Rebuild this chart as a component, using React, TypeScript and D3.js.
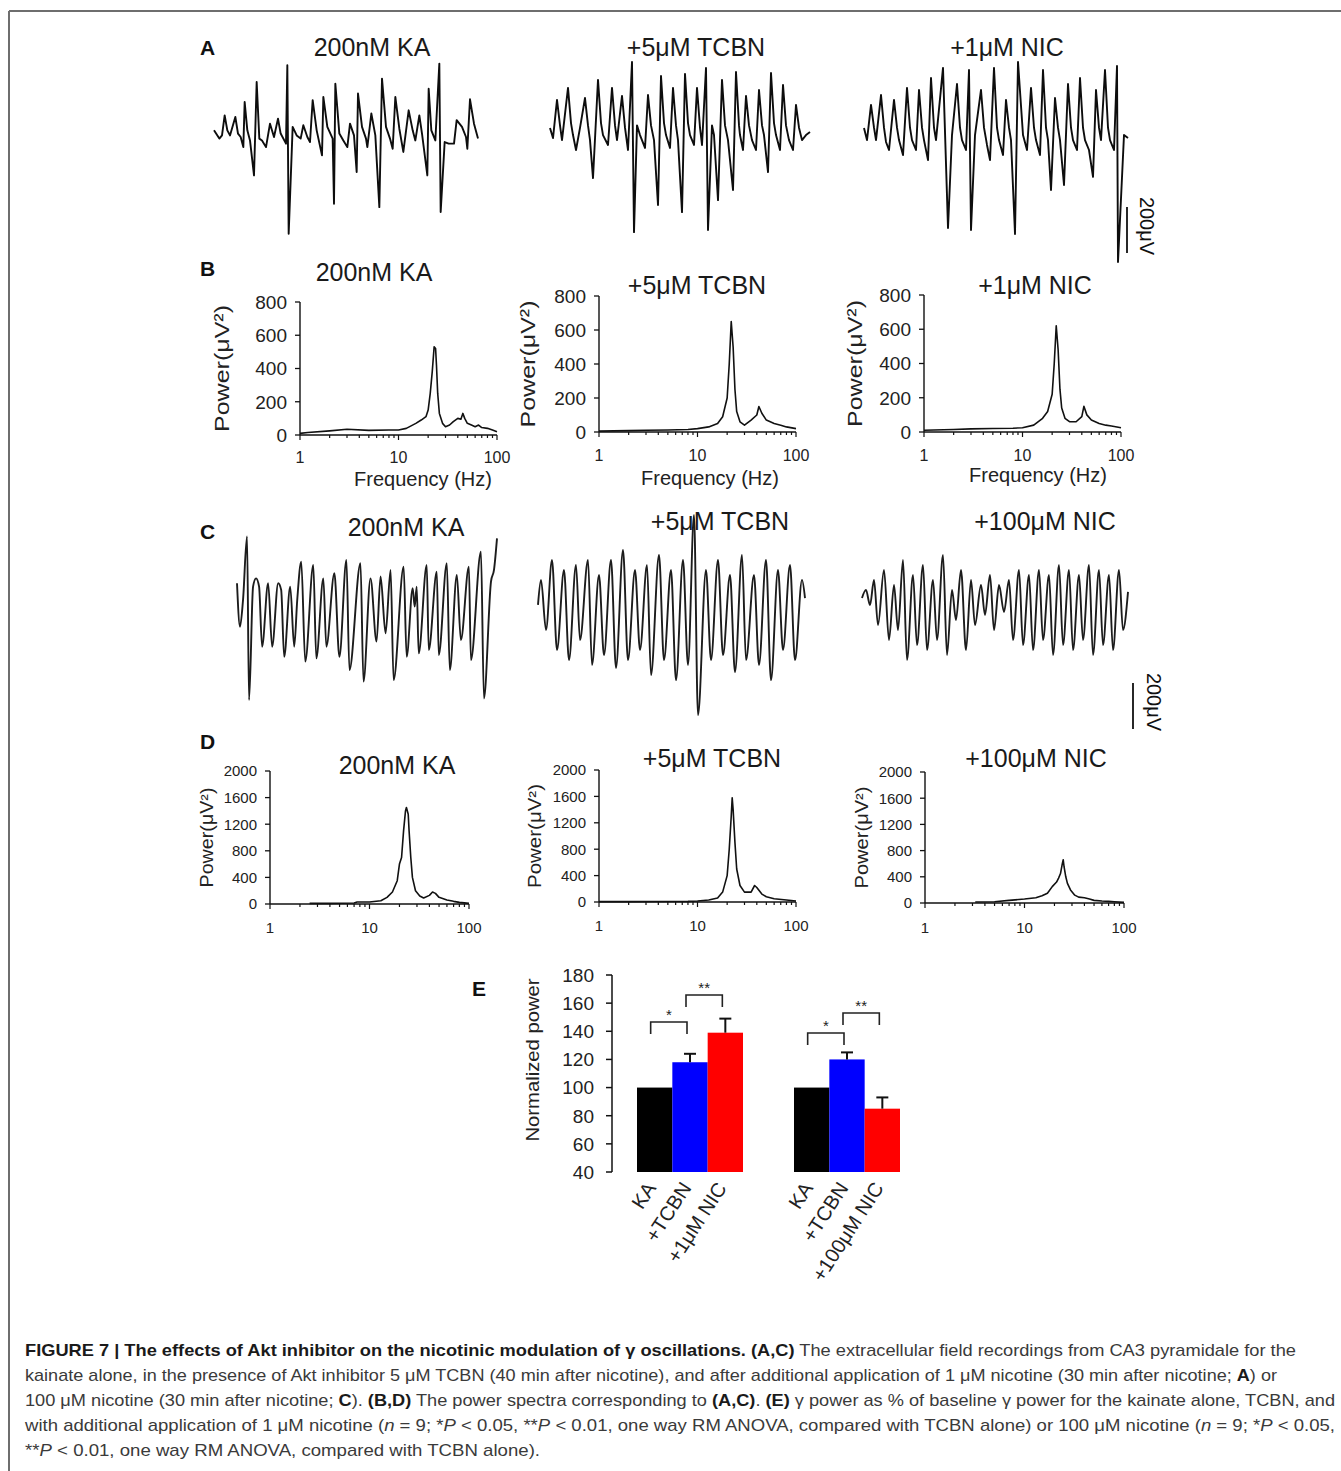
import React from 'react';
import * as d3 from 'd3';

type Pt = [number, number];

const FONT = 'Liberation Sans, Arial, Helvetica, sans-serif';

// ---- A: field recordings, [time (ms), potential (µV)] ----
const traceA_KA: Pt[] = [
  [0, 29], [4, -7], [6, 7], [8, 94], [10, 29], [12, 7], [16, 87], [18, 15], [20, 0], [22, -44], [23, 152], [25, 29],
  [27, -15], [30, -167], [32, 239], [34, -7], [36, -15], [39, -44], [42, 58], [45, 0], [48, 80], [50, 15], [54, -29],
  [55, 312], [56, -421], [59, 44], [62, 7], [65, -7], [67, 51], [70, 0], [72, -22], [74, 160], [77, 29], [81, -80],
  [82, 174], [85, 44], [89, -7], [90, -290], [91, 232], [94, 15], [97, -15], [100, -44], [102, 58], [105, 7],
  [107, -152], [108, 189], [111, 44], [114, -7], [115, -44], [118, 102], [121, 7], [124, -305], [126, 254], [129, 44],
  [132, -7], [134, -51], [136, 174], [139, 36], [142, -65], [146, 116], [149, 29], [151, -15], [154, 94], [156, 15],
  [160, -167], [161, 210], [163, 29], [166, -15], [169, 319], [170, -326], [173, -22], [176, -29], [180, -29], [182, 73],
  [186, 44], [189, 0], [190, -51], [192, 164], [195, 58], [198, -7],
];
const traceA_TCBN: Pt[] = [
  [0, 9], [3, -35], [7, 131], [10, 20], [12, -44], [18, 183], [21, 30], [23, -22], [26, -87], [30, 9], [35, 139],
  [38, 20], [40, -44], [43, -209], [48, 218], [51, 30], [53, -22], [58, -65], [62, 183], [65, 20], [67, -44], [72, 148],
  [75, 10], [78, -87], [82, 296], [84, -444], [87, 20], [90, -22], [95, -78], [98, 152], [101, 20], [104, -44],
  [108, -326], [111, 235], [114, 30], [116, -22], [120, -78], [123, 183], [126, 20], [128, -44], [132, -357], [135, 244],
  [138, 30], [140, -22], [144, -65], [147, 183], [150, 10], [152, -65], [156, 270], [158, -435], [162, 20], [164, -22],
  [168, -305], [172, 218], [175, 20], [178, -44], [183, -261], [186, 252], [189, 20], [190, -22], [193, -87], [196, 148],
  [199, 20], [202, -44], [206, -87], [209, 174], [212, 20], [214, -22], [218, -183], [221, 248], [224, 30], [226, -22],
  [230, -87], [233, 196], [236, 20], [239, -44], [243, -87], [246, 109], [249, 10], [252, -44], [256, -22], [260, -9],
];
const traceA_NIC: Pt[] = [
  [0, 9], [3, -44], [7, 109], [10, 10], [12, -44], [17, 152], [20, 10], [22, -52], [25, -87], [30, 131], [33, 10],
  [35, -44], [39, -109], [43, 183], [46, 10], [48, -44], [52, -87], [55, 174], [58, 10], [60, -44], [64, -131],
  [67, 226], [70, 10], [72, -44], [79, 270], [84, -426], [88, -22], [93, 200], [96, 10], [98, -44], [102, -87],
  [105, 261], [107, -435], [111, -22], [117, 174], [120, 10], [123, -65], [126, -131], [130, 270], [133, 10], [135, -44],
  [139, -109], [142, 131], [145, 10], [147, -44], [151, -452], [154, 296], [159, -22], [163, -87], [167, 183], [170, 10],
  [172, -44], [176, -109], [179, 261], [182, 10], [184, -44], [187, -261], [191, 139], [194, 10], [196, -44],
  [200, -239], [204, 200], [207, 10], [209, -44], [213, -87], [216, 226], [219, 10], [221, -44], [225, -87], [229, -204],
  [232, 174], [235, 10], [237, -44], [241, 261], [244, 10], [246, -44], [250, -87], [253, 278], [254, -574], [260, -22],
  [264, -35],
];

// ---- C: field recordings, [time (ms), potential (µV)] ----
const traceC_KA: Pt[] = [
  [0, 73], [3, -116], [6, 0], [10, 276], [12, -435], [16, 58], [19, 94], [22, 58], [25, -203], [31, 73], [35, -203],
  [41, 73], [44, 44], [47, -247], [53, 58], [57, -203], [60, 0], [64, 167], [68, -268], [76, 152], [79, -254], [86, 94],
  [89, -203], [97, 116], [102, -247], [109, 174], [112, -305], [123, 160], [126, -355], [133, 94], [139, -181],
  [143, 102], [148, -145], [153, 131], [156, -348], [166, 145], [169, -247], [175, 51], [177, -29], [179, 58],
  [181, -232], [189, 152], [191, -218], [199, 123], [201, -239], [209, 160], [212, -305], [219, 109], [223, -174],
  [231, 145], [233, -261], [243, 210], [246, -428], [253, 80], [256, 131], [259, 268],
];
const traceC_TCBN: Pt[] = [
  [0, 22], [3, 131], [8, -87], [14, 218], [19, -174], [26, 174], [31, -218], [38, 196], [42, -131], [50, 218],
  [54, -239], [61, 152], [66, -196], [73, 218], [78, -252], [85, 261], [90, -218], [97, 174], [102, -174], [109, 196],
  [113, -283], [121, 239], [126, -218], [133, 174], [138, -305], [145, 218], [150, -239], [156, 413], [160, -457],
  [168, 174], [173, -218], [180, 218], [185, -196], [192, 152], [197, -270], [204, 239], [208, -218], [216, 152],
  [221, -239], [228, 218], [233, -305], [240, 174], [245, -174], [252, 196], [257, -218], [264, 131], [267, 52],
];
const traceC_NIC: Pt[] = [
  [0, 9], [4, 44], [8, -22], [12, 87], [16, -109], [22, 131], [27, -174], [32, 65], [36, -131], [41, 174], [45, -261],
  [51, 109], [55, -196], [61, 152], [65, -218], [71, 87], [75, -174], [81, 196], [85, -239], [90, 44], [94, -87],
  [99, 131], [104, -218], [109, 87], [113, -109], [119, 65], [123, -65], [128, 109], [132, -131], [137, 65], [142, -52],
  [147, 87], [151, -174], [157, 131], [161, -196], [167, 109], [171, -218], [177, 131], [181, -174], [187, 109],
  [191, -239], [197, 152], [201, -196], [207, 131], [211, -218], [217, 109], [221, -174], [227, 152], [231, -239],
  [237, 131], [241, -196], [247, 109], [251, -218], [257, 131], [261, -131], [266, 35],
];

// ---- B / D: power spectra, [frequency (Hz), power (µV²)] ----
const specB_KA: Pt[] = [
  [1, 10], [1.2, 15], [2, 25], [3, 35], [5, 28], [8, 30], [10, 30], [12, 40], [15, 70], [17, 90], [19, 110], [20, 150],
  [21, 250], [22, 380], [23, 530], [23.8, 520], [24.3, 420], [25, 250], [26, 130], [28, 70], [30, 50], [33, 60],
  [36, 80], [40, 100], [43, 95], [45, 130], [47, 100], [50, 70], [55, 60], [60, 50], [65, 60], [70, 45], [80, 40],
  [90, 30], [100, 20],
];
const specB_TCBN: Pt[] = [
  [1, 5], [2, 8], [3, 10], [5, 12], [8, 15], [10, 20], [13, 30], [16, 50], [18, 90], [20, 200], [21, 400], [22, 650],
  [23, 500], [24, 250], [25, 120], [27, 60], [30, 40], [35, 70], [40, 100], [42, 150], [45, 110], [50, 70], [60, 50],
  [70, 40], [80, 30], [100, 20],
];
const specB_NIC: Pt[] = [
  [1, 10], [2, 15], [3, 18], [5, 20], [8, 22], [10, 25], [13, 40], [16, 80], [18, 120], [20, 220], [21, 400],
  [22, 620], [23, 480], [24, 250], [25, 140], [27, 80], [30, 60], [35, 60], [40, 90], [42, 150], [45, 100], [50, 70],
  [60, 50], [70, 40], [80, 35], [100, 25],
];
const specD_KA: Pt[] = [
  [2.5, 10], [4, 10], [7, 15], [7.5, 30], [10, 30], [13, 50], [15, 100], [17, 180], [19, 350], [20, 600], [21, 700],
  [22, 1100], [23, 1400], [23.5, 1450], [24.5, 1350], [25, 1100], [26, 700], [27, 400], [29, 200], [32, 120], [35, 90],
  [40, 130], [43, 180], [46, 160], [50, 100], [60, 60], [70, 40], [80, 25], [100, 10],
];
const specD_TCBN: Pt[] = [
  [1, 5], [2, 5], [5, 8], [8, 10], [10, 15], [13, 30], [16, 60], [18, 150], [20, 400], [21, 800], [22, 1300],
  [22.5, 1580], [23, 1400], [24, 900], [25, 500], [27, 250], [30, 150], [35, 150], [38, 250], [40, 220], [45, 120],
  [50, 80], [60, 50], [80, 30], [100, 15],
];
const specD_NIC: Pt[] = [
  [3.2, 15], [5, 20], [7, 40], [10, 60], [13, 80], [15, 110], [17, 150], [19, 250], [21, 320], [22, 380], [23, 450],
  [24, 600], [24.5, 660], [25, 550], [26, 400], [27, 300], [29, 200], [32, 120], [35, 90], [40, 80], [45, 60], [50, 40],
  [60, 30], [70, 25], [80, 20], [100, 10],
];

const titlesAB = ['200nM KA', '+5μM TCBN', '+1μM NIC'];
const titlesCD = ['200nM KA', '+5μM TCBN', '+100μM NIC'];

// ---- E: normalized gamma power (% of KA) ----
const barLabels1 = ['KA', '+TCBN', '+1μM NIC'];
const barLabels2 = ['KA', '+TCBN', '+100μM NIC'];
const barMeans1 = [100, 118, 139];
const barErr1 = [0, 6, 10];
const barMeans2 = [100, 120, 85];
const barErr2 = [0, 5, 8];
const barColors = ['#000000', '#0000ff', '#ff0000'];
const sigBrackets = [
  { group: 0, from: 0, to: 1, level: 146.6, label: '*' },
  { group: 0, from: 1, to: 2, level: 165.8, label: '**' },
  { group: 1, from: 0, to: 1, level: 138.8, label: '*' },
  { group: 1, from: 1, to: 2, level: 153, label: '**' },
];

const UV200 = 46; // px for the 200 µV scale bar

function Trace({ data, x0, x1, base, color, smooth }: { data: Pt[]; x0: number; x1: number; base: number; color: string; smooth?: boolean }) {
  const x = d3.scaleLinear().domain(d3.extent(data, d => d[0]) as [number, number]).range([x0, x1]);
  const y = d3.scaleLinear().domain([0, 200]).range([base, base - UV200]);
  const line = d3.line<Pt>().x(d => x(d[0])).y(d => y(d[1])).curve(smooth ? d3.curveMonotoneX : d3.curveLinear);
  return <path d={line(data) ?? ''} fill="none" stroke={color} strokeWidth={1.9} strokeLinejoin="round" />;
}

function ScaleBar({ x, top, textX }: { x: number; top: number; textX: number }) {
  const y = d3.scaleLinear().domain([0, 200]).range([top + UV200, top]);
  const my = (y(0) + y(200)) / 2 - 4;
  return (
    <g>
      <line x1={x} x2={x} y1={y(0)} y2={y(200)} stroke="#111" strokeWidth={1.8} />
      <text x={textX} y={my} transform={`rotate(90 ${textX} ${my})`}
        textAnchor="middle" fontSize={20} fontFamily={FONT} fill="#111">200μV</text>
    </g>
  );
}

type SpecCfg = {
  left: number; right: number; top: number; bottom: number; yMax: number; yStep: number;
  tickFont: number; xTickFont: number; labelFont: number; yLabelX: number; yLabelLen: number; xTickY: number;
  freqY?: number; freqX?: number;
};

function Spectrum({ data, c }: { data: Pt[]; c: SpecCfg }) {
  const x = d3.scaleLog().domain([1, 100]).range([c.left, c.right]);
  const y = d3.scaleLinear().domain([0, c.yMax]).range([c.bottom, c.top]);
  const line = d3.line<Pt>().x(d => x(d[0])).y(d => y(d[1]));
  const yt = d3.range(0, c.yMax + 1, c.yStep);
  const xt = x.ticks();
  const midY = (c.top + c.bottom) / 2;
  return (
    <g fontFamily={FONT} fill="#222">
      <line x1={c.left} x2={c.left} y1={c.top} y2={c.bottom} stroke="#111" strokeWidth={1.4} />
      <line x1={c.left} x2={c.right} y1={c.bottom} y2={c.bottom} stroke="#111" strokeWidth={1.4} />
      {yt.map(v => (
        <g key={v}>
          <line x1={c.left - 5} x2={c.left} y1={y(v)} y2={y(v)} stroke="#111" strokeWidth={1.3} />
          <text x={c.left - 13} y={y(v)} dy="0.36em" textAnchor="end" fontSize={c.tickFont}>{v}</text>
        </g>
      ))}
      {xt.map(v => {
        const major = [1, 10, 100].includes(v);
        return <line key={v} x1={x(v)} x2={x(v)} y1={c.bottom} y2={c.bottom + (major ? 5 : 3)} stroke="#111" strokeWidth={1.2} />;
      })}
      {[1, 10, 100].map(v => (
        <text key={v} x={x(v)} y={c.xTickY} textAnchor="middle" fontSize={c.xTickFont}>{v}</text>
      ))}
      <path d={line(data) ?? ''} fill="none" stroke="#111" strokeWidth={1.6} strokeLinejoin="round" />
      <text x={c.yLabelX} y={midY} transform={`rotate(-90 ${c.yLabelX} ${midY})`} textAnchor="middle" dy="0.35em"
        fontSize={c.labelFont} textLength={c.yLabelLen} lengthAdjust="spacingAndGlyphs">Power(μV²)</text>
      {c.freqY !== undefined && (
        <text x={c.freqX} y={c.freqY} textAnchor="middle" fontSize={20}>Frequency (Hz)</text>
      )}
    </g>
  );
}

const specB: SpecCfg[] = [
  { left: 300, right: 497, top: 302, bottom: 435, yMax: 800, yStep: 200, tickFont: 19, xTickFont: 16, labelFont: 20, yLabelX: 222, yLabelLen: 127, xTickY: 463, freqY: 486, freqX: 423 },
  { left: 599, right: 796, top: 296, bottom: 432, yMax: 800, yStep: 200, tickFont: 19, xTickFont: 16, labelFont: 20, yLabelX: 528, yLabelLen: 127, xTickY: 461, freqY: 485, freqX: 710 },
  { left: 924, right: 1121, top: 295, bottom: 432, yMax: 800, yStep: 200, tickFont: 19, xTickFont: 16, labelFont: 20, yLabelX: 855, yLabelLen: 127, xTickY: 461, freqY: 482, freqX: 1038 },
];
const specD: SpecCfg[] = [
  { left: 270, right: 469, top: 771, bottom: 904, yMax: 2000, yStep: 400, tickFont: 15, xTickFont: 15, labelFont: 18, yLabelX: 207, yLabelLen: 100, xTickY: 933 },
  { left: 599, right: 796, top: 770, bottom: 902, yMax: 2000, yStep: 400, tickFont: 15, xTickFont: 15, labelFont: 18, yLabelX: 535, yLabelLen: 104, xTickY: 931 },
  { left: 925, right: 1124, top: 772, bottom: 903, yMax: 2000, yStep: 400, tickFont: 15, xTickFont: 15, labelFont: 18, yLabelX: 862, yLabelLen: 102, xTickY: 933 },
];

function BarPanel() {
  const y = d3.scaleLinear().domain([40, 180]).range([1172, 975]);
  const groups = [
    { x: d3.scaleBand<number>().domain([0, 1, 2]).range([637, 743]), means: barMeans1, errs: barErr1, labels: barLabels1 },
    { x: d3.scaleBand<number>().domain([0, 1, 2]).range([794, 900]), means: barMeans2, errs: barErr2, labels: barLabels2 },
  ];
  return (
    <g fontFamily={FONT} fill="#222">
      <line x1={612} x2={612} y1={y(180)} y2={y(40)} stroke="#111" strokeWidth={1.5} />
      {y.ticks(7).map(v => (
        <g key={v}>
          <line x1={606} x2={612} y1={y(v)} y2={y(v)} stroke="#111" strokeWidth={1.5} />
          <text x={594} y={y(v)} dy="0.36em" textAnchor="end" fontSize={19}>{v}</text>
        </g>
      ))}
      <text x={532} y={1060} transform="rotate(-90 532 1060)" textAnchor="middle" dy="0.35em" fontSize={19}
        textLength={163} lengthAdjust="spacingAndGlyphs">Normalized  power</text>
      {groups.map((g, gi) => (
        <g key={gi}>
          {g.means.map((m, i) => {
            const bx = g.x(i)!;
            const bw = g.x.bandwidth();
            const cx = bx + bw / 2;
            return (
              <g key={i}>
                <rect x={bx} y={y(m)} width={bw} height={y(40) - y(m)} fill={barColors[i]} />
                {g.errs[i] > 0 && (
                  <g stroke="#111" strokeWidth={2}>
                    <line x1={cx} x2={cx} y1={y(m)} y2={y(m + g.errs[i])} />
                    <line x1={cx - 6} x2={cx + 6} y1={y(m + g.errs[i])} y2={y(m + g.errs[i])} />
                  </g>
                )}
                <text x={cx + 2} y={1188} transform={`rotate(-57 ${cx + 2} 1188)`} textAnchor="end" fontSize={20}>{g.labels[i]}</text>
              </g>
            );
          })}
        </g>
      ))}
      {sigBrackets.map((s, i) => {
        const g = groups[s.group];
        const bw = g.x.bandwidth();
        const xa = g.x(s.from)! + bw / 2 - 4;
        const xb = g.x(s.to)! + bw / 2 - 3;
        const by = y(s.level);
        return (
          <g key={i}>
            <path d={`M${xa},${by + 12}V${by}H${xb}V${by + 12}`} fill="none" stroke="#222" strokeWidth={1.6} />
            <text x={(xa + xb) / 2} y={by - 2} textAnchor="middle" fontSize={15}>{s.label}</text>
          </g>
        );
      })}
    </g>
  );
}

function Caption() {
  const b = (t: string) => <tspan fontWeight="bold" fill="#1a1a1a">{t}</tspan>;
  const i = (t: string) => <tspan fontStyle="italic">{t}</tspan>;
  const lines: { len: number; content: React.ReactNode }[] = [
    { len: 1271, content: <>{b('FIGURE 7 | The effects of Akt inhibitor on the nicotinic modulation of γ oscillations. (A,C)')} The extracellular field recordings from CA3 pyramidale for the</> },
    { len: 1252, content: <>kainate alone, in the presence of Akt inhibitor 5 μM TCBN (40 min after nicotine), and after additional application of 1 μM nicotine (30 min after nicotine; {b('A')}) or</> },
    { len: 1310, content: <>100 μM nicotine (30 min after nicotine; {b('C')}). {b('(B,D)')} The power spectra corresponding to {b('(A,C)')}. {b('(E)')} γ power as % of baseline γ power for the kainate alone, TCBN, and</> },
    { len: 1310, content: <>with additional application of 1 μM nicotine ({i('n')} = 9; *{i('P')} {'<'} 0.05, **{i('P')} {'<'} 0.01, one way RM ANOVA, compared with TCBN alone) or 100 μM nicotine ({i('n')} = 9; *{i('P')} {'<'} 0.05,</> },
    { len: 515, content: <>**{i('P')} {'<'} 0.01, one way RM ANOVA, compared with TCBN alone).</> },
  ];
  return (
    <g fontFamily={FONT} fontSize={17} fill="#3a3a3a">
      {lines.map((l, k) => (
        <text key={k} x={25} y={1356 + k * 25} textLength={l.len} lengthAdjust="spacingAndGlyphs">{l.content}</text>
      ))}
    </g>
  );
}

export default function App() {
  const aX = [[214, 478], [550, 810], [864, 1128]];
  const aBase = [137, 130, 130];
  const aData = [traceA_KA, traceA_TCBN, traceA_NIC];
  const aTitleX = [372, 696, 1007];
  const cX = [[237, 497], [538, 805], [862, 1128]];
  const cBase = [600, 610, 600];
  const cData = [traceC_KA, traceC_TCBN, traceC_NIC];
  const cTitleX = [406, 720, 1045];
  const cTitleY = [536, 530, 530];
  const bTitleX = [374, 697, 1035];
  const bTitleY = [281, 294, 294];
  const dTitleX = [397, 712, 1036];
  const dTitleY = [774, 767, 767];
  const bData = [specB_KA, specB_TCBN, specB_NIC];
  const dData = [specD_KA, specD_TCBN, specD_NIC];
  return (
    <svg width={1341} height={1471} style={{ position: 'absolute', left: 0, top: 0, background: '#fff' }}>
      <rect width={1341} height={1471} fill="#fff" />
      <line x1={9} x2={1341} y1={11} y2={11} stroke="#6e6e6e" strokeWidth={2} />
      <line x1={9} x2={9} y1={11} y2={1471} stroke="#6e6e6e" strokeWidth={2} />

      <g fontFamily={FONT} fontWeight="bold" fontSize={21} fill="#111">
        <text x={200} y={55}>A</text>
        <text x={200} y={276}>B</text>
        <text x={200} y={539}>C</text>
        <text x={200} y={749}>D</text>
        <text x={472} y={996}>E</text>
      </g>

      <g fontFamily={FONT} fontSize={25} fill="#1a1a1a" textAnchor="middle">
        {titlesAB.map((t, k) => <text key={'a' + k} x={aTitleX[k]} y={56}>{t}</text>)}
        {titlesAB.map((t, k) => <text key={'b' + k} x={bTitleX[k]} y={bTitleY[k]}>{t}</text>)}
        {titlesCD.map((t, k) => <text key={'c' + k} x={cTitleX[k]} y={cTitleY[k]}>{t}</text>)}
        {titlesCD.map((t, k) => <text key={'d' + k} x={dTitleX[k]} y={dTitleY[k]}>{t}</text>)}
      </g>

      {aData.map((d, k) => <Trace key={'ta' + k} data={d} x0={aX[k][0]} x1={aX[k][1]} base={aBase[k]} color="#0d0d0d" />)}
      {cData.map((d, k) => <Trace key={'tc' + k} data={d} x0={cX[k][0]} x1={cX[k][1]} base={cBase[k]} color="#1c1c1c" smooth />)}
      <ScaleBar x={1127} top={207} textX={1140} />
      <ScaleBar x={1133} top={683} textX={1147} />

      {bData.map((d, k) => <Spectrum key={'sb' + k} data={d} c={specB[k]} />)}
      {dData.map((d, k) => <Spectrum key={'sd' + k} data={d} c={specD[k]} />)}

      <BarPanel />
      <Caption />
    </svg>
  );
}
